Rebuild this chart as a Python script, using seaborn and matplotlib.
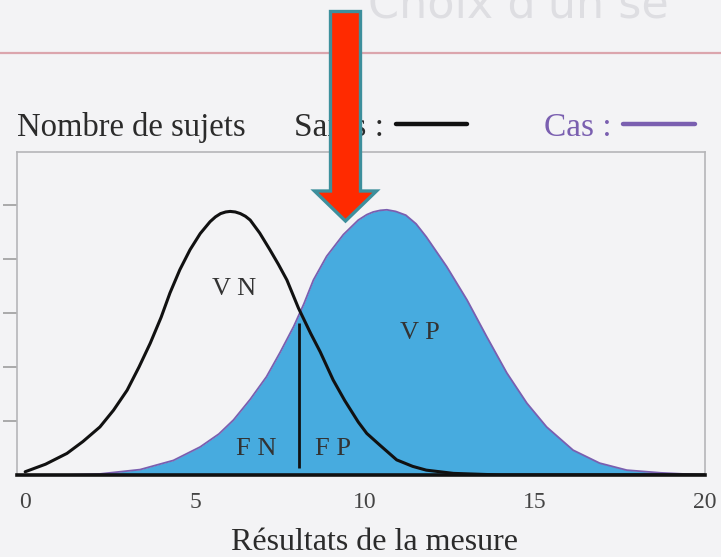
import numpy as np
import pandas as pd
import seaborn as sns
import matplotlib.pyplot as plt
from matplotlib.patches import FancyArrow
from matplotlib.lines import Line2D

sns.set_theme(style="white")
plt.rcParams['font.family'] = ['Liberation Serif', 'DejaVu Serif']

# Courbe des sujets sains
x_sains = [0.0, 0.6, 1.23, 1.7, 2.2, 2.6, 3.0, 3.35, 3.68, 4.0, 4.26, 4.55, 4.85,
           5.15, 5.44, 5.6, 5.75, 5.9, 6.03, 6.18, 6.33, 6.48, 6.62, 6.9, 7.2,
           7.45, 7.7, 8.04, 8.4, 8.68, 9.06, 9.4, 9.8, 10.05, 10.44, 10.93, 11.4,
           11.8, 12.6, 14.0, 20.0]
y_sains = [0.06, 0.2, 0.40, 0.62, 0.89, 1.2, 1.57, 2.0, 2.44, 2.92, 3.37, 3.8, 4.17,
           4.47, 4.69, 4.78, 4.84, 4.87, 4.88, 4.87, 4.84, 4.79, 4.72, 4.48, 4.17,
           3.9, 3.61, 3.09, 2.62, 2.28, 1.76, 1.38, 0.98, 0.77, 0.55, 0.28, 0.16,
           0.09, 0.03, 0.0, 0.0]

# Courbe des cas
x_cas = [0.0, 1.2, 2.2, 3.38, 4.36, 5.15, 5.7, 6.13, 6.62, 7.1, 7.5, 7.9, 8.2,
         8.48, 8.87, 9.36, 9.8, 10.05, 10.24, 10.45, 10.64, 10.9, 11.2, 11.5,
         11.8, 12.4, 13.0, 13.58, 14.17, 14.76, 15.34, 16.12, 16.9, 17.7, 18.7, 20.0]
y_cas = [0.0, 0.0, 0.02, 0.1, 0.27, 0.52, 0.76, 1.02, 1.4, 1.82, 2.27, 2.75, 3.17,
         3.61, 4.05, 4.45, 4.72, 4.82, 4.87, 4.90, 4.91, 4.88, 4.81, 4.65,
         4.41, 3.86, 3.24, 2.56, 1.89, 1.33, 0.89, 0.46, 0.22, 0.09, 0.04, 0.0]

seuil = 8.06
seuil_haut = 2.81
seuil_bas = 0.13

x_ticks = [0, 5, 10, 15, 20]
y_ticks = [1, 2, 3, 4, 5]

zones = ["V N", "V P", "F N", "F P"]
zones_x = [6.15, 11.6, 6.8, 9.06]
zones_y = [3.44, 2.63, 0.48, 0.48]

bg = "#f3f3f5"
bleu = "#47abdf"
violet = "#7a5fb0"
texte = "#2b2b2b"

df_sains = pd.DataFrame({"x": x_sains, "y": y_sains})
df_cas = pd.DataFrame({"x": x_cas, "y": y_cas})

fig = plt.figure(figsize=(7.21, 5.57), dpi=100, facecolor=bg)
ax = fig.add_axes([17 / 721, 82 / 557, 688 / 721, 323 / 557])
ax.set_facecolor(bg)

ax.fill_between(df_cas["x"], df_cas["y"], 0, color=bleu, lw=0, zorder=1)
sns.lineplot(data=df_cas, x="x", y="y", ax=ax, color=violet, lw=1.3,
             sort=False, estimator=None, zorder=2)
sns.lineplot(data=df_sains, x="x", y="y", ax=ax, color="#111111", lw=2.2,
             sort=False, estimator=None, zorder=3)
ax.vlines(seuil, seuil_bas, seuil_haut, color="#111111", lw=2.0, zorder=3)

for lab, zx, zy in zip(zones, zones_x, zones_y):
    ax.text(zx, zy, lab, ha="center", va="center", fontsize=19,
            color="#333333", zorder=4)

ax.set_xlim(-0.24, 20)
ax.set_ylim(0, 5.98)
ax.set_xticks(x_ticks)
ax.set_xticklabels([str(t) for t in x_ticks], fontsize=17, color="#444444")
ax.set_yticks(y_ticks)
ax.set_yticklabels([])
ax.tick_params(axis="x", length=0, pad=12)
ax.tick_params(axis="y", direction="out", length=10, width=1.4,
               color="#aaaaaa", left=True)

for side in ["left", "top", "right"]:
    ax.spines[side].set_color("#b5b5b8")
    ax.spines[side].set_linewidth(1.2)
ax.spines["bottom"].set_color("#111111")
ax.spines["bottom"].set_linewidth(2.6)

ax.set_xlabel("Résultats de la mesure", fontsize=23, color=texte, va="center")
ax.xaxis.set_label_coords(0.52, -0.21)
ax.set_ylabel("Nombre de sujets", rotation=0, fontsize=23.5, color=texte,
              ha="left", va="center")
ax.yaxis.set_label_coords(0.0, 1.075)

handles = [Line2D([], [], color="#111111", lw=3.2),
           Line2D([], [], color=violet, lw=3.2)]
leg = ax.legend(handles, ["Sains :", "Cas :"], ncol=2, frameon=False,
                markerfirst=False, loc="center right",
                bbox_to_anchor=(0.9855, 1.075), borderaxespad=0, borderpad=0,
                handlelength=2.15, handletextpad=0.35, columnspacing=2.3,
                fontsize=24)
for t, c in zip(leg.get_texts(), [texte, violet]):
    t.set_color(c)

# trait rose et titre transparent du haut de page
fig.add_artist(Line2D([0, 1], [1 - 53 / 557] * 2, transform=fig.transFigure,
                      color="#dba5ad", lw=1.6))
fig.text(368 / 721, 1 - 18 / 557, "Choix d'un se", fontsize=32,
         family="DejaVu Sans", color="#dedee2", va="baseline", ha="left")

# flèche rouge
fleche = FancyArrow(345.5 / 721, 1 - 11.5 / 557, 0, -(221 - 11.5) / 557,
                    width=30 / 721, head_width=62 / 721,
                    head_length=30 / 557, length_includes_head=True,
                    transform=fig.transFigure, facecolor="#ff2a00",
                    edgecolor="#3d8f9c", lw=2.4, zorder=10)
fig.add_artist(fleche)

plt.savefig("out.png", dpi=100, facecolor=bg)
